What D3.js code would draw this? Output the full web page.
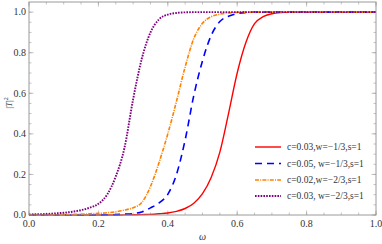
<!DOCTYPE html>
<html>
<head>
<meta charset="utf-8">
<script src="https://cdn.jsdelivr.net/npm/d3@7"></script>
<style>
  body { margin: 0; background: #fff; }
  svg { display: block; }
</style>
</head>
<body>
<svg id="chart" width="382" height="244"></svg>
<script>
// values, omega step 0.025
const omega = d3.range(0, 41).map(i => +(i * 0.025).toFixed(3));
const seriesNames = ["c=0.03,w=\u22121/3,s=1", "c=0.05, w=\u22121/3,s=1", "c=0.02,w=\u22122/3,s=1", "c=0.03, w=\u22122/3,s=1"];
const redVals = [0, 0, 0, 0, 0, 0, 0, 0, 0, 0, 0, 0.0005, 0.001, 0.002, 0.003, 0.006, 0.01, 0.018, 0.032, 0.058,
  0.105, 0.185, 0.31, 0.5, 0.7, 0.85, 0.943, 0.978, 0.992, 0.998, 1, 1, 1, 1, 1, 1, 1, 1, 1, 1, 1];
const blueVals = [0, 0, 0, 0, 0, 0, 0, 0, 0.0005, 0.001, 0.002, 0.004, 0.007, 0.015, 0.035, 0.06, 0.102, 0.2, 0.37, 0.59,
  0.76, 0.885, 0.954, 0.98, 0.993, 0.998, 1, 1, 1, 1, 1, 1, 1, 1, 1, 1, 1, 1, 1, 1, 1];
const orangeVals = [0.001, 0.001, 0.001, 0.001, 0.002, 0.003, 0.004, 0.006, 0.008, 0.011, 0.016, 0.024, 0.036, 0.062, 0.14, 0.26, 0.4, 0.56, 0.73, 0.87,
  0.945, 0.977, 0.99, 0.996, 0.999, 1, 1, 1, 1, 1, 1, 1, 1, 1, 1, 1, 1, 1, 1, 1, 1];
const purpleVals = [0.003, 0.004, 0.005, 0.008, 0.011, 0.016, 0.024, 0.036, 0.055, 0.1, 0.19, 0.33, 0.57, 0.77, 0.9, 0.965, 0.988, 0.996, 0.999, 1,
  1, 1, 1, 1, 1, 1, 1, 1, 1, 1, 1, 1, 1, 1, 1, 1, 1, 1, 1, 1, 1];
const xTicks = [0, 0.2, 0.4, 0.6, 0.8, 1.0];
const yTicks = [0, 0.2, 0.4, 0.6, 0.8, 1.0];

const svg = d3.select("#chart");
const mLeft = 29, mRight = 376, mTop = 2, mBottom = 215;

const x = d3.scaleLinear().domain([0, 1]).range([mLeft, mRight]);
const y = d3.scaleLinear().domain([0, 1.05]).range([mBottom, mTop]);

const frameColor = "#9a9a9a";
const textColor = "#333";
const serif = "Liberation Serif";

// ticks on all four sides, pointing inward
const minor = d3.range(0, 1.0001, 0.05);
function tickSet(axis, vals, len) {
  vals.forEach(v => {
    if (axis === "x") {
      svg.append("line").attr("x1", x(v)).attr("x2", x(v)).attr("y1", mBottom).attr("y2", mBottom - len).attr("stroke", frameColor).attr("stroke-width", 0.6);
      svg.append("line").attr("x1", x(v)).attr("x2", x(v)).attr("y1", mTop).attr("y2", mTop + len).attr("stroke", frameColor).attr("stroke-width", 0.6);
    } else {
      svg.append("line").attr("y1", y(v)).attr("y2", y(v)).attr("x1", mLeft).attr("x2", mLeft + len).attr("stroke", frameColor).attr("stroke-width", 0.6);
      svg.append("line").attr("y1", y(v)).attr("y2", y(v)).attr("x1", mRight).attr("x2", mRight - len).attr("stroke", frameColor).attr("stroke-width", 0.6);
    }
  });
}
tickSet("x", minor, 2.5);
tickSet("y", minor, 2.5);
tickSet("x", xTicks, 4.5);
tickSet("y", yTicks, 4.5);

// curves
const line = d3.line()
  .x((d, i) => x(omega[i]))
  .y(d => y(d))
  .curve(d3.curveMonotoneX);

const styles = [
  { vals: redVals, color: "#ff0000", dash: null, w: 1.4 },
  { vals: blueVals, color: "#0000ff", dash: "7,5", w: 1.6 },
  { vals: orangeVals, color: "#ff8000", dash: "4,1.2,1,1.2", w: 1.6 },
  { vals: purpleVals, color: "#800080", dash: "1.6,1.2", w: 1.9 }
];

const plot = svg.append("g");
styles.forEach(s => {
  plot.append("path")
    .datum(s.vals)
    .attr("d", line)
    .attr("fill", "none")
    .attr("stroke", s.color)
    .attr("stroke-width", s.w)
    .attr("stroke-dasharray", s.dash);
});

// frame
svg.append("rect")
  .attr("x", mLeft).attr("y", mTop)
  .attr("width", mRight - mLeft).attr("height", mBottom - mTop)
  .attr("fill", "none").attr("stroke", frameColor).attr("stroke-width", 1);

// tick labels
const fmt = d3.format(".1f");
svg.selectAll(".xl").data(xTicks).enter().append("text")
  .attr("x", d => x(d)).attr("y", 227)
  .attr("text-anchor", "middle").attr("font-size", 10).attr("font-family", serif).attr("fill", textColor)
  .text(fmt);
svg.selectAll(".yl").data(yTicks).enter().append("text")
  .attr("x", 26).attr("y", d => y(d) + 3.3)
  .attr("text-anchor", "end").attr("font-size", 10).attr("font-family", serif).attr("fill", textColor)
  .text(fmt);

// axis titles
svg.append("text").attr("x", x(0.5)).attr("y", 240)
  .attr("text-anchor", "middle").attr("font-size", 10).attr("font-style", "italic")
  .attr("font-family", serif).attr("fill", textColor)
  .text("\u03c9");
const yl = svg.append("text")
  .attr("transform", "translate(12,103) rotate(-90)")
  .attr("text-anchor", "middle").attr("font-size", 9).attr("font-family", serif).attr("fill", textColor);
yl.append("tspan").text("|");
yl.append("tspan").attr("font-style", "italic").text("T");
yl.append("tspan").text("|");
yl.append("tspan").attr("font-size", 6).attr("dy", -4).text("2");

// legend
const legendY = [147, 163.5, 180, 196];
const lg = svg.append("g");
styles.forEach((s, i) => {
  lg.append("line")
    .attr("x1", 255).attr("x2", 281)
    .attr("y1", legendY[i]).attr("y2", legendY[i])
    .attr("stroke", s.color).attr("stroke-width", s.w)
    .attr("stroke-dasharray", s.dash);
  lg.append("text")
    .attr("x", 287).attr("y", legendY[i] + 3.3)
    .attr("font-size", 9.5).attr("font-family", serif).attr("fill", textColor)
    .text(seriesNames[i]);
});
</script>
</body>
</html>
